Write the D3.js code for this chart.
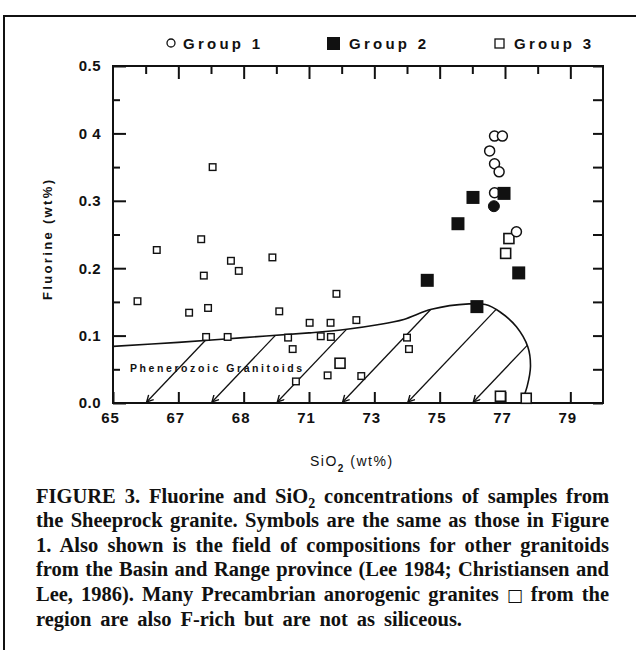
<!DOCTYPE html>
<html>
<head>
<meta charset="utf-8">
<script src="https://cdn.jsdelivr.net/npm/d3@7"></script>
<style>
  body { margin: 0; background: #fff; }
  svg text { fill: #111; }
</style>
</head>
<body>
<svg id="fig" width="636" height="650"></svg>
<script>
// ---- data ----
const groupOneX = [76.68, 76.92, 76.53, 76.68, 76.82, 76.68, 77.35];
const groupOneY = [0.396, 0.396, 0.374, 0.355, 0.343, 0.312, 0.254];
const groupOneFilledX = [76.66];
const groupOneFilledY = [0.292];

const groupTwoX = [76.02, 76.97, 75.56, 74.62, 77.42, 76.14];
const groupTwoY = [0.305, 0.311, 0.266, 0.182, 0.193, 0.143];

const groupThreeX = [77.12, 77.02, 76.86, 77.65, 71.95];
const groupThreeY = [0.244, 0.222, 0.010, 0.007, 0.059];

// Precambrian anorogenic granites (small squares)
const precambrianX = [65.75, 66.34, 67.70, 67.78, 67.33, 67.91, 67.85, 68.51, 68.61, 68.85, 68.05,
    69.88, 70.09, 70.36, 70.50, 70.60, 71.02, 71.36, 71.66, 71.67, 71.57, 71.84, 72.45, 72.60, 74.00, 74.06];
const precambrianY = [0.151, 0.227, 0.243, 0.189, 0.134, 0.141, 0.098, 0.098, 0.211, 0.196, 0.350,
    0.216, 0.136, 0.097, 0.080, 0.032, 0.119, 0.099, 0.119, 0.098, 0.041, 0.162, 0.123, 0.040, 0.097, 0.080];

// outline of the Phanerozoic granitoid field
const fieldX = [65, 67, 69, 71, 72.1, 73.1, 73.9, 74.75, 75.9, 76.4, 76.85, 77.35, 77.7, 77.78, 77.68, 77.5];
const fieldY = [0.084, 0.090, 0.097, 0.104, 0.109, 0.116, 0.124, 0.139, 0.147, 0.146, 0.135, 0.113, 0.083, 0.054, 0.025, 0.0];
const hatchStartX = [66, 68, 70, 72, 74, 76];

const xMajor = [65, 67, 69, 71, 73, 75, 77, 79];
const xTickLabels = ["65", "67", "68", "71", "73", "75", "77", "79"];
const xMinor = [66, 68, 70, 72, 74, 76, 78];
const yMajor = [0, 0.1, 0.2, 0.3, 0.4, 0.5];
const yTickLabels = ["0.0", "0.1", "0.2", "0.3", "0 4", "0.5"];
const yMinor = [0.05, 0.15, 0.25, 0.35, 0.45];

const legendLabels = ["Group 1", "Group 2", "Group 3"];

const caption = [
    "FIGURE 3. Fluorine and SiO_2 concentrations of samples from",
    "the Sheeprock granite. Symbols are the same as those in Figure",
    "1. Also shown is the field of compositions for other granitoids",
    "from the Basin and Range province (Lee 1984; Christiansen and",
    "Lee, 1986). Many Precambrian anorogenic granites \u25A1 from the",
    "region are also F-rich but are not as siliceous."
];

const svg = d3.select("#fig");
const sans = "'Liberation Sans', Arial, Helvetica, sans-serif";
const serif = "'Liberation Serif', 'Times New Roman', serif";

const plotLeft = 113, plotRight = 603, plotTop = 66, plotBottom = 403;
const x = d3.scaleLinear().domain([65, 80]).range([plotLeft, plotRight]);
const y = d3.scaleLinear().domain([0, 0.5]).range([plotBottom, plotTop]);

// outer figure frame (top and left edges visible)
svg.append("path")
    .attr("d", "M4,650 L4,16 L636,16")
    .attr("fill", "none").attr("stroke", "#111").attr("stroke-width", 2);

// legend
const legend = svg.append("g").attr("font-family", sans).attr("font-weight", "bold").attr("font-size", 15);
legend.append("circle").attr("cx", 171).attr("cy", 43).attr("r", 4)
    .attr("fill", "none").attr("stroke", "#111").attr("stroke-width", 1.3);
legend.append("rect").attr("x", 327).attr("y", 37).attr("width", 13).attr("height", 13).attr("fill", "#111");
legend.append("rect").attr("x", 495).attr("y", 39).attr("width", 9).attr("height", 9)
    .attr("fill", "none").attr("stroke", "#111").attr("stroke-width", 1.3);
const legendX = [183, 349, 514];
legendLabels.forEach((t, i) => {
    legend.append("text").attr("x", legendX[i]).attr("y", 48.5)
        .attr("textLength", 77).attr("lengthAdjust", "spacing").text(t);
});

// plot frame
svg.append("rect").attr("x", plotLeft).attr("y", plotTop)
    .attr("width", plotRight - plotLeft).attr("height", plotBottom - plotTop)
    .attr("fill", "none").attr("stroke", "#111").attr("stroke-width", 2);

// axes with inward ticks
function styleAxis(g) {
    g.select(".domain").remove();
    g.selectAll(".tick line").attr("stroke", "#111").attr("stroke-width", 2);
    g.selectAll("text").attr("font-family", sans).attr("font-weight", "bold")
        .attr("font-size", 15).attr("fill", "#111");
}

svg.append("g").attr("transform", `translate(0,${plotBottom})`)
    .call(d3.axisBottom(x).tickValues(xMajor).tickSize(-11).tickPadding(9)
        .tickFormat((d, i) => xTickLabels[i]))
    .call(styleAxis)
    .call(g => g.selectAll("text").attr("letter-spacing", 1).attr("dx", -3));

svg.append("g").attr("transform", `translate(0,${plotTop})`)
    .call(d3.axisTop(x).tickValues(xMajor.slice(1)).tickSize(-13).tickFormat(""))
    .call(styleAxis);
svg.append("g").attr("transform", `translate(0,${plotTop})`)
    .call(d3.axisTop(x).tickValues(xMinor).tickSize(-8).tickFormat(""))
    .call(styleAxis);

svg.append("g").attr("transform", `translate(${plotLeft},0)`)
    .call(d3.axisLeft(y).tickValues(yMajor).tickSize(-13).tickPadding(12)
        .tickFormat((d, i) => yTickLabels[i]))
    .call(styleAxis)
    .call(g => g.selectAll("text").attr("letter-spacing", 0.5));
svg.append("g").attr("transform", `translate(${plotLeft},0)`)
    .call(d3.axisLeft(y).tickValues(yMinor).tickSize(-7).tickFormat(""))
    .call(styleAxis);

svg.append("g").attr("transform", `translate(${plotRight},0)`)
    .call(d3.axisRight(y).tickValues(yMajor.concat(yMinor)).tickSize(-10).tickFormat(""))
    .call(styleAxis);

// axis titles
svg.append("text")
    .attr("transform", "translate(52,240) rotate(-90)")
    .attr("text-anchor", "middle")
    .attr("font-family", sans).attr("font-weight", "bold").attr("font-size", 13)
    .attr("textLength", 120).attr("lengthAdjust", "spacing")
    .text("Fluorine (wt%)");

const xTitle = svg.append("text")
    .attr("x", 310).attr("y", 466)
    .attr("font-family", sans).attr("font-size", 14).attr("letter-spacing", 1.5);
xTitle.append("tspan").text("SiO");
xTitle.append("tspan").attr("dy", 6).attr("font-size", 10).attr("font-weight", "bold").text("2");
xTitle.append("tspan").attr("dy", -6).text(" (wt%)");

// granitoid field outline
const fieldPts = fieldX.map((v, i) => [x(v), y(fieldY[i])]);
const fieldLine = d3.line().curve(d3.curveCatmullRom.alpha(0.5));
const fieldPath = svg.append("path")
    .attr("d", fieldLine(fieldPts))
    .attr("fill", "none").attr("stroke", "#111").attr("stroke-width", 1.6);

// sample outline, then hatch lines from the base up to the outline
const node = fieldPath.node();
const total = node.getTotalLength();
const samples = d3.range(0, 401).map(k => node.getPointAtLength(total * k / 400));

svg.append("defs").append("marker")
    .attr("id", "arrow").attr("viewBox", "0 0 8 8")
    .attr("refX", 0.5).attr("refY", 4)
    .attr("markerWidth", 8).attr("markerHeight", 8)
    .attr("markerUnits", "userSpaceOnUse")
    .attr("orient", "auto")
    .append("path").attr("d", "M7,0.5 L0.5,4 L7,7.5")
    .attr("fill", "none").attr("stroke", "#111").attr("stroke-width", 1.4);

const dir = [1, -1.05];
hatchStartX.forEach(hx => {
    const x0 = x(hx), y0 = plotBottom;
    let best = null;
    for (let k = 0; k < samples.length - 1; k++) {
        const a = samples[k], b = samples[k + 1];
        const ex = b.x - a.x, ey = b.y - a.y;
        const den = dir[0] * (-ey) - dir[1] * (-ex);
        if (Math.abs(den) < 1e-9) continue;
        const rx = a.x - x0, ry = a.y - y0;
        const t = (rx * (-ey) - ry * (-ex)) / den;
        const s = (dir[0] * ry - dir[1] * rx) / den;
        if (s >= 0 && s <= 1 && t > 1 && (best === null || t < best)) best = t;
    }
    if (best === null) return;
    svg.append("line")
        .attr("x1", x0 + 1).attr("y1", y0 - 1)
        .attr("x2", x0 + best * dir[0]).attr("y2", y0 + best * dir[1])
        .attr("stroke", "#111").attr("stroke-width", 1.3)
        .attr("marker-start", "url(#arrow)");
});

svg.append("text")
    .attr("x", 130).attr("y", 372)
    .attr("font-family", sans).attr("font-weight", "bold").attr("font-size", 10.5)
    .attr("textLength", 172).attr("lengthAdjust", "spacing")
    .text("Phenerozoic Granitoids");

// points
const marks = svg.append("g").attr("stroke", "#111");

marks.selectAll(".pc").data(precambrianX.map((v, i) => [v, precambrianY[i]]))
    .join("rect").attr("class", "pc")
    .attr("x", d => x(d[0]) - 3.3).attr("y", d => y(d[1]) - 3.3)
    .attr("width", 6.6).attr("height", 6.6)
    .attr("fill", "#fff").attr("stroke-width", 1.4);

marks.selectAll(".g3").data(groupThreeX.map((v, i) => [v, groupThreeY[i]]))
    .join("rect").attr("class", "g3")
    .attr("x", d => x(d[0]) - 5).attr("y", d => y(d[1]) - 5)
    .attr("width", 10).attr("height", 10)
    .attr("fill", "#fff").attr("stroke-width", 1.6);

marks.selectAll(".g1").data(groupOneX.map((v, i) => [v, groupOneY[i]]))
    .join("circle").attr("class", "g1")
    .attr("cx", d => x(d[0])).attr("cy", d => y(d[1])).attr("r", 5)
    .attr("fill", "#fff").attr("stroke-width", 1.5);

marks.selectAll(".g1f").data(groupOneFilledX.map((v, i) => [v, groupOneFilledY[i]]))
    .join("circle").attr("class", "g1f")
    .attr("cx", d => x(d[0])).attr("cy", d => y(d[1])).attr("r", 5.5)
    .attr("fill", "#111");

marks.selectAll(".g2").data(groupTwoX.map((v, i) => [v, groupTwoY[i]]))
    .join("rect").attr("class", "g2")
    .attr("x", d => x(d[0]) - 6.5).attr("y", d => y(d[1]) - 6.5)
    .attr("width", 13).attr("height", 13)
    .attr("fill", "#111").attr("stroke", "none");

// caption, justified (last line spaced out to its printed width)
const capLeft = 36, capRight = 609, lastRight = 462, capTop = 502.5, capStep = 24.6;
caption.forEach((line, i) => {
    const t = svg.append("text")
        .attr("x", capLeft).attr("y", capTop + i * capStep)
        .attr("font-family", serif).attr("font-weight", "bold").attr("font-size", 20.5);
    let shiftBack = 0;
    line.split(/(_2|\u25A1)/).forEach(part => {
        if (part === "_2") {
            t.append("tspan").attr("dy", 5).attr("font-size", 14).text("2");
            shiftBack = -5;
        } else if (part === "\u25A1") {
            t.append("tspan").attr("font-family", "'DejaVu Sans', sans-serif")
                .attr("font-weight", "normal").attr("font-size", 17).text(part);
        } else if (part.length) {
            const ts = t.append("tspan").text(part);
            if (shiftBack) { ts.attr("dy", shiftBack); shiftBack = 0; }
        }
    });
    const target = (i < caption.length - 1 ? capRight : lastRight) - capLeft;
    const natural = t.node().getComputedTextLength();
    const spaces = (line.match(/ /g) || []).length;
    const extra = (target - natural) / spaces;
    if (extra >= 0) t.attr("word-spacing", extra);
    else t.attr("textLength", target).attr("lengthAdjust", "spacingAndGlyphs");
});
</script>
</body>
</html>
